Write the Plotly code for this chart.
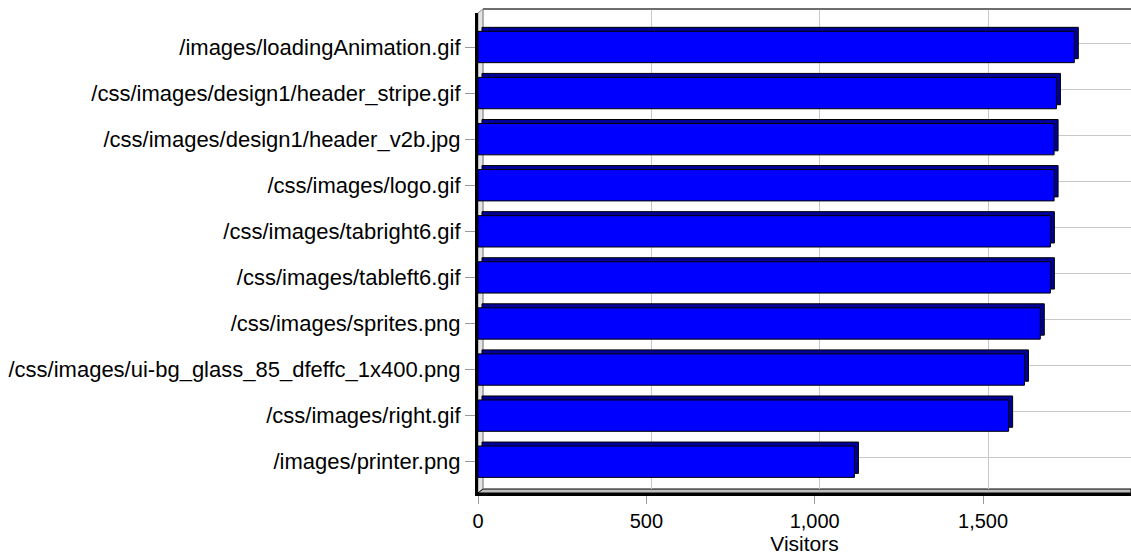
import plotly.graph_objects as go

pages = [
    "/images/loadingAnimation.gif",
    "/css/images/design1/header_stripe.gif",
    "/css/images/design1/header_v2b.jpg",
    "/css/images/logo.gif",
    "/css/images/tabright6.gif",
    "/css/images/tableft6.gif",
    "/css/images/sprites.png",
    "/css/images/ui-bg_glass_85_dfeffc_1x400.png",
    "/css/images/right.gif",
    "/images/printer.png",
]
visitors = [1771, 1718, 1711, 1711, 1700, 1700, 1670, 1623, 1576, 1118]
x_ticks = [0, 500, 1000, 1500]

# --- layout geometry (pixels) ---
W, H = 1131, 557
ML, MR, MT, MB = 478, 0, 9, 64
PW, PH = W - ML - MR, H - MT - MB          # paper plot area
DX, DY = 5, 4                               # 3D depth in pixels
PX_PER_UNIT = 0.3367
CAT_PX = 46.08
BAR_W = 0.68

front_h = PH - DY
x_front_max = PW / PX_PER_UNIT
x_back_max = (PW - DX) / PX_PER_UNIT
y_top = -34 / CAT_PX
y_bot = y_top + front_h / CAT_PX
dx_u = 4 / PX_PER_UNIT
dy_u = 4 / CAT_PX

FONT = "Liberation Sans, Arial, sans-serif"

fig = go.Figure()

# back plane (gridlines only)
fig.add_trace(go.Scatter(x=visitors, y=pages, xaxis="x", yaxis="y", mode="markers",
                         marker=dict(opacity=0), hoverinfo="skip", showlegend=False))
# depth faces (shadow)
fig.add_trace(go.Bar(x=visitors, y=pages, base=dx_u, orientation="h",
                     xaxis="x2", yaxis="y2", width=BAR_W, offset=-BAR_W / 2 - dy_u,
                     marker=dict(color="#000099", line=dict(color="#000000", width=1)),
                     hoverinfo="skip", showlegend=False))
# front faces
fig.add_trace(go.Bar(x=visitors, y=pages, orientation="h",
                     xaxis="x2", yaxis="y2", width=BAR_W, offset=-BAR_W / 2,
                     marker=dict(color="#0000FF", line=dict(color="#000000", width=1)),
                     showlegend=False, name="Visitors"))

shapes = [
    # left wall
    dict(type="path", xref="paper", yref="paper", layer="below",
         path=f"M 0,{front_h/PH} L {DX/PW},1 L {DX/PW},{DY/PH} L 0,0 Z",
         fillcolor="#e4e4e4", line=dict(color="#8c8c8c", width=1)),
    # floor
    dict(type="path", xref="paper", yref="paper", layer="below",
         path=f"M 0,0 L {DX/PW},{DY/PH} L 1,{DY/PH} L 1,0 Z",
         fillcolor="#bdbdbd", line=dict(color="#000000", width=1)),
    # back top border
    dict(type="line", xref="paper", yref="paper", layer="above",
         x0=DX/PW, x1=1, y0=1, y1=1, line=dict(color="#6e6e6e", width=2)),
    # back left border
    dict(type="line", xref="paper", yref="paper", layer="below",
         x0=DX/PW, x1=DX/PW, y0=DY/PH, y1=1, line=dict(color="#a0a0a0", width=1)),
]

fig.update_layout(
    width=W, height=H,
    margin=dict(l=ML, r=MR, t=MT, b=MB, pad=0, autoexpand=False),
    paper_bgcolor="white", plot_bgcolor="rgba(0,0,0,0)",
    barmode="overlay",
    font=dict(family=FONT, size=22, color="#000000"),
    shapes=shapes,
    xaxis=dict(domain=[DX / PW, 1], range=[0, x_back_max], anchor="y",
               tickvals=x_ticks, showticklabels=False, ticks="",
               showgrid=True, gridcolor="#c8c8c8", gridwidth=1, automargin=False,
               zeroline=False, showline=False, fixedrange=True),
    yaxis=dict(domain=[DY / PH, 1], range=[y_bot, y_top], anchor="x",
               type="category", categoryorder="array", categoryarray=pages,
               showticklabels=False, ticks="", automargin=False,
               showgrid=True, gridcolor="#c8c8c8", gridwidth=1,
               zeroline=False, showline=False, fixedrange=True),
    xaxis2=dict(domain=[0, 1], range=[0, x_front_max], anchor="y2",
                tickvals=x_ticks, tickformat=",", ticks="outside", ticklen=8,
                tickcolor="#9a9a9a", tickwidth=1, tickfont=dict(size=20),
                showgrid=False, zeroline=False, automargin=False,
                showline=True, linecolor="#000000", linewidth=3,
                title=dict(text="Visitors", standoff=2, font=dict(size=21)),
                fixedrange=True),
    yaxis2=dict(domain=[0, front_h / PH], range=[y_bot, y_top], anchor="x2",
                type="category", categoryorder="array", categoryarray=pages,
                ticks="outside", ticklen=10, tickcolor="#9a9a9a", tickwidth=1,
                showgrid=False, zeroline=False, automargin=False,
                showline=True, linecolor="#000000", linewidth=3,
                fixedrange=True),
)

fig.write_html(
    "out.html",
    config={"displayModeBar": False},
    post_script="document.body.style.margin='0';document.body.style.overflow='hidden';",
)
